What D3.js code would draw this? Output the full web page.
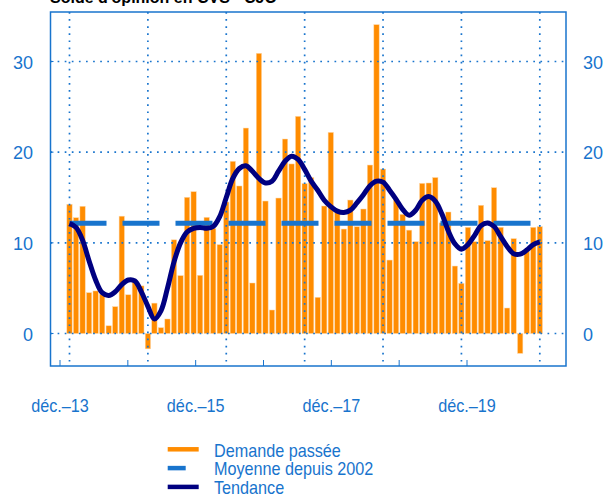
<!DOCTYPE html>
<html>
<head>
<meta charset="utf-8">
<script src="https://cdn.jsdelivr.net/npm/d3@7"></script>
<style>
  body { margin: 0; background: #fff; }
  svg { display: block; font-family: "Liberation Sans", Arial, sans-serif; }
</style>
</head>
<body>
<div id="chart"></div>
<script>
'use strict';

// monthly, dec. 2013 -> dec. 2019
var demande = [14.25, 12.77, 14.03, 4.5, 4.69, 4.32, 0.85, 2.96, 12.94, 4.27, 5.88, 5.25,
  -1.69, 3.35, 0.64, 1.6, 10.33, 6.38, 15.02, 15.64, 6.42, 12.81, 11.6, 9.8,
  14.5, 18.99, 16.27, 22.66, 5.57, 30.9, 14.61, 2.59, 14.94, 21.45, 18.7, 23.95,
  16.53, 17.2, 3.99, 14.06, 22.18, 13.5, 11.52, 14.72, 11.78, 13.73, 18.58, 34.06,
  18.14, 8.1, 14.72, 13.14, 11.4, 10.13, 16.56, 16.6, 17.2, 12.2, 13.4, 7.44,
  5.53, 11.71, 10.13, 14.14, 10.24, 16.08, 11.71, 2.81, 10.46, -2.19, 9.3, 11.71,
  11.78];

var tendance = [12.15, 11.7, 10.3, 8.0, 5.9, 4.5, 4.2, 4.6, 5.4, 5.9, 5.8, 4.6,
  3.0, 1.6, 2.5, 5.0, 7.9, 10.0, 11.2, 11.6, 11.7, 11.6, 11.8, 12.9,
  15.0, 17.1, 18.2, 18.5, 17.9, 17.1, 16.6, 16.8, 17.9, 19.0, 19.55, 19.2,
  18.1, 16.8, 15.8, 14.7, 14.0, 13.5, 13.35, 13.6, 14.4, 15.3, 16.3, 16.8,
  16.7, 15.8, 14.8, 13.7, 13.05, 13.6, 14.7, 15.1, 14.6, 13.2, 11.3, 9.9,
  9.3, 9.8, 10.8, 11.9, 12.2, 11.8, 10.7, 9.6, 8.8, 8.75, 9.2, 9.8,
  10.1];

var moyenne = 12.15;

var yTicks = [0, 10, 20, 30];
var years = [2013, 2014, 2015, 2016, 2017, 2018, 2019];
var yearLabels = ['déc.–13', '', 'déc.–15', '', 'déc.–17', '', 'déc.–19'];

var legendItems = [
  { label: 'Demande passée', color: '#ff8c00', len: 31 },
  { label: 'Moyenne depuis 2002', color: '#1874cd', len: 18 },
  { label: 'Tendance', color: '#000080', len: 31 }
];

var width = 605, height = 495;
var blue = '#1874cd';
var frame = { left: 50.5, right: 566, top: 12, bottom: 366 };

var svg = d3.select('#chart').append('svg')
  .attr('width', width)
  .attr('height', height);

var x = d3.scaleLinear().domain([0, demande.length - 1]).range([69.5, 539.8]);
var y = d3.scaleLinear().domain([0, 30]).range([333.5, 61.5]);
// the date labels do not sit on the monthly grid in the original
var xLab = d3.scaleLinear().domain([2013, 2019]).range([60, 467]);

// title, mostly cut off above the page
svg.append('text')
  .attr('x', 50)
  .attr('y', 3)
  .attr('font-size', 16)
  .attr('font-weight', 'bold')
  .attr('fill', '#000')
  .text('Solde d\'opinion en CVS - CJO');

// bars
var barW = 5.3;
svg.append('g').selectAll('rect')
  .data(demande)
  .enter().append('rect')
    .attr('x', function (d, i) { return x(i) - barW / 2; })
    .attr('y', function (d) { return y(Math.max(0, d)); })
    .attr('width', barW)
    .attr('height', function (d) { return Math.abs(y(d) - y(0)); })
    .attr('fill', '#ff8c00')
    .attr('stroke', '#ffd6a3')
    .attr('stroke-width', 0.5);

// dotted grid
var grid = svg.append('g')
  .attr('stroke', blue)
  .attr('stroke-width', 1.7)
  .attr('stroke-dasharray', '1.7 5.4');

grid.selectAll('.h').data(yTicks).enter().append('line')
  .attr('x1', frame.left).attr('x2', frame.right)
  .attr('y1', function (d) { return y(d); })
  .attr('y2', function (d) { return y(d); });

var gridMonths = d3.range(0, demande.length, 12);
grid.selectAll('.v').data(gridMonths).enter().append('line')
  .attr('y1', frame.top).attr('y2', frame.bottom)
  .attr('x1', function (d) { return x(d); })
  .attr('x2', function (d) { return x(d); });

// long-run mean
svg.append('line')
  .attr('x1', x(0)).attr('x2', x(demande.length - 1))
  .attr('y1', y(moyenne)).attr('y2', y(moyenne))
  .attr('stroke', blue)
  .attr('stroke-width', 5)
  .attr('stroke-dasharray', '37 16');

// trend
var line = d3.line()
  .x(function (d, i) { return x(i); })
  .y(function (d) { return y(d); })
  .curve(d3.curveCatmullRom);

svg.append('path')
  .datum(tendance)
  .attr('d', line)
  .attr('fill', 'none')
  .attr('stroke', '#000080')
  .attr('stroke-width', 5)
  .attr('stroke-linejoin', 'round');

// frame
svg.append('rect')
  .attr('x', frame.left).attr('y', frame.top)
  .attr('width', frame.right - frame.left)
  .attr('height', frame.bottom - frame.top)
  .attr('fill', 'none')
  .attr('stroke', blue)
  .attr('stroke-width', 1.5);

// y labels, both sides
var yl = svg.append('g').attr('fill', blue).attr('font-size', 18);
yl.selectAll('.l').data(yTicks).enter().append('text')
  .attr('x', 33)
  .attr('y', function (d) { return y(d) + 7; })
  .attr('text-anchor', 'end')
  .text(function (d) { return d; });
yl.selectAll('.r').data(yTicks).enter().append('text')
  .attr('x', 583)
  .attr('y', function (d) { return y(d) + 7; })
  .text(function (d) { return d; });

svg.append('g').selectAll('line').data(yTicks).enter().append('line')
  .attr('x1', frame.left).attr('x2', frame.left + 3)
  .attr('y1', function (d) { return y(d); })
  .attr('y2', function (d) { return y(d); })
  .attr('stroke', blue).attr('stroke-width', 1);

// bottom ticks and date labels
svg.append('g').selectAll('line').data(years).enter().append('line')
  .attr('x1', function (d) { return xLab(d); })
  .attr('x2', function (d) { return xLab(d); })
  .attr('y1', frame.bottom).attr('y2', frame.bottom - 6)
  .attr('stroke', blue).attr('stroke-width', 1);

svg.append('g').selectAll('text').data(years).enter().append('text')
  .attr('transform', function (d) { return 'translate(' + xLab(d) + ',411.5) scale(0.9,1)'; })
  .attr('text-anchor', 'middle')
  .attr('font-size', 18)
  .attr('fill', blue)
  .text(function (d, i) { return yearLabels[i]; });

// legend
var leg = svg.append('g').selectAll('g')
  .data(legendItems)
  .enter().append('g')
    .attr('transform', function (d, i) { return 'translate(0,' + (449.3 + i * 18.8) + ')'; });

leg.append('line')
  .attr('x1', 167.7)
  .attr('x2', function (d) { return 167.7 + d.len; })
  .attr('stroke', function (d) { return d.color; })
  .attr('stroke-width', 4.5);

leg.append('text')
  .attr('transform', 'translate(214,7.3) scale(0.9,1)')
  .attr('font-size', 18)
  .attr('fill', blue)
  .text(function (d) { return d.label; });
</script>
</body>
</html>
